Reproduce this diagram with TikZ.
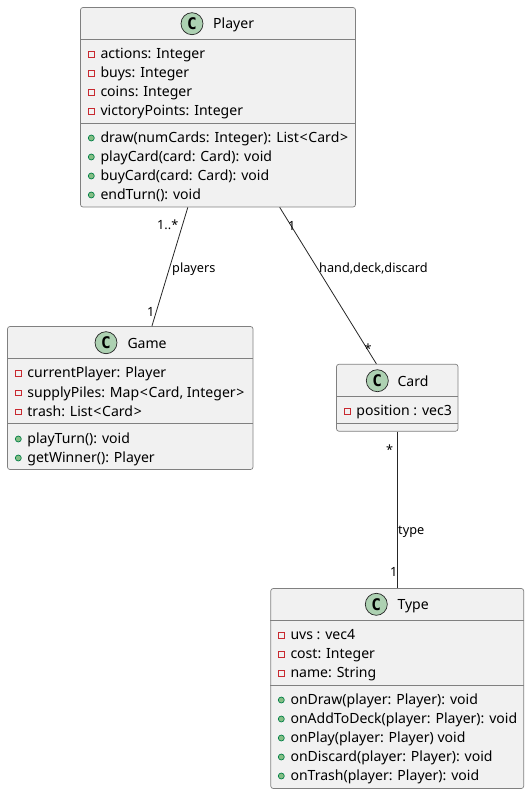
\documentclass[tikz,border=0pt]{standalone}
\usepackage{fontspec}
\setmainfont{Noto Sans}
\newfontfamily\spotfont{DejaVu Sans Mono}
\definecolor{boxfill}{HTML}{F1F1F1}
\definecolor{boxline}{HTML}{808080}
\definecolor{spotfill}{HTML}{ADD1B2}
\definecolor{privline}{HTML}{C82930}
\definecolor{pubfill}{HTML}{84BE84}
\definecolor{publine}{HTML}{038048}
\def\opn{\kern0.7pt<\kern0.7pt}
\def\cls{\kern0.7pt>}
\begin{document}
\begin{tikzpicture}[x=1pt, y=-1pt, text=black]
      \tikzset{
	  classbox/.style={rectangle,rounded corners=2.5pt,draw=boxline,fill=boxfill,line width=0.7pt,inner sep=0pt},
	  spot/.style={circle,draw=black!85,fill=spotfill,line width=0.7pt,inner sep=0pt,minimum size=22pt,font=\spotfont\fontsize{16}{16}\selectfont\bfseries},
	  title/.style={anchor=base west,inner sep=0pt,yshift=-0.6pt,font=\fontsize{14.05}{17}\selectfont},
	  member/.style={anchor=base west,inner sep=0pt,yshift=-0.6pt,font=\fontsize{14.05}{17}\selectfont},
	  privmark/.style={rectangle,draw=privline,fill=boxfill,line width=0.7pt,inner sep=0pt,minimum size=5.5pt},
	  pubmark/.style={circle,draw=publine,fill=pubfill,line width=0.7pt,inner sep=0pt,minimum size=6pt},
	  divider/.style={draw=boxline,line width=0.7pt},
	  assoc/.style={draw=black!85,line width=0.8pt},
	  rolelabel/.style={anchor=base west,inner sep=0pt,yshift=-0.6pt,font=\fontsize{12.7}{16}\selectfont}
      }

      \useasboundingbox (0,0) rectangle (529,794);

      % classes
      \node [classbox, minimum width=275pt, minimum height=199.5pt] (player) at (218,107.25) {};
      \node [classbox, minimum width=245.5pt, minimum height=143pt] (game) at (130.25,398) {};
      \node [classbox, minimum width=121.5pt, minimum height=67pt] (card) at (397.25,397.75) {};
      \node [classbox, minimum width=253pt, minimum height=200pt] (type) at (397.25,688.5) {};

      % player
      \node [spot] (playerspot) at (192,23.7) {C};
      \node [title] (playertitle) at (213,28) {Player};
      \draw [divider] (player.west |- 0,39.5) -- (player.east |- 0,39.5);
      \draw [divider] (player.west |- 0,123.5) -- (player.east |- 0,123.5);
      \foreach \y/\txt in {58/{actions: Integer},77/{buys: Integer},96/{coins: Integer},115/{victoryPoints: Integer}} {
	  \node [privmark] (playerpriv\y) at (91.3,\y-3.7) {};
	  \node [member] (playerfield\y) at (100.3,\y) {\txt};
      }
      \foreach \y/\txt in {142/{draw(numCards: Integer): List\opn Card\cls},161/{playCard(card: Card): void},180/{buyCard(card: Card): void},199/{endTurn(): void}} {
	  \node [pubmark] (playerpub\y) at (91.3,\y-4) {};
	  \node [member] (playermethod\y) at (100.3,\y) {\txt};
      }

      % game
      \node [spot] (gamespot) at (106,342.7) {C};
      \node [title] (gametitle) at (127.3,348) {Game};
      \draw [divider] (game.west |- 0,358.5) -- (game.east |- 0,358.5);
      \draw [divider] (game.west |- 0,423.7) -- (game.east |- 0,423.7);
      \foreach \y/\txt in {377/{currentPlayer: Player},396.5/{supplyPiles: Map\opn Card, Integer\cls},415.5/{trash: List\opn Card\cls}} {
	  \node [privmark] (gamepriv\y) at (18.3,\y-3.7) {};
	  \node [member] (gamefield\y) at (27.2,\y) {\txt};
      }
      \foreach \y/\txt in {443/{playTurn(): void},462/{getWinner(): Player}} {
	  \node [pubmark] (gamepub\y) at (18.3,\y-4) {};
	  \node [member] (gamemethod\y) at (27.2,\y) {\txt};
      }

      % card
      \node [spot] (cardspot) at (377.3,380.7) {C};
      \node [title] (cardtitle) at (397.3,385.7) {Card};
      \draw [divider] (card.west |- 0,396.3) -- (card.east |- 0,396.3);
      \draw [divider] (card.west |- 0,423.3) -- (card.east |- 0,423.3);
      \node [privmark] (cardpriv) at (347.3,411.3) {};
      \node [member] (cardfield) at (356.2,415) {position : vec3};

      % type
      \node [spot] (typespot) at (376.3,604.3) {C};
      \node [title] (typetitle) at (397.3,609.3) {Type};
      \draw [divider] (type.west |- 0,620.3) -- (type.east |- 0,620.3);
      \draw [divider] (type.west |- 0,685.3) -- (type.east |- 0,685.3);
      \foreach \y/\txt in {639/{uvs : vec4},658/{cost: Integer},677/{name: String}} {
	  \node [privmark] (typepriv\y) at (281.3,\y-3.7) {};
	  \node [member] (typefield\y) at (290.3,\y) {\txt};
      }
      \foreach \y/\txt in {704/{onDraw(player: Player): void},723/{onAddToDeck(player: Player): void},742/{onPlay(player: Player) void},761/{onDiscard(player: Player): void},780/{onTrash(player: Player): void}} {
	  \node [pubmark] (typepub\y) at (281.3,\y-4) {};
	  \node [member] (typemethod\y) at (290.3,\y) {\txt};
      }

      % associations
      \draw [assoc] (player) -- (game);
      \draw [assoc] (player) -- (card);
      \draw [assoc] (card) -- (type);

      \node [rolelabel] (playersrole) at (172,272) {players};
      \node [rolelabel] (manyplayers) at (157,229) {1..*};
      \node [rolelabel] (onegame) at (147,316) {1};
      \node [rolelabel] (handrole) at (319,272) {hand,deck,discard};
      \node [rolelabel] (oneplayer) at (288,230) {1};
      \node [rolelabel] (manycards) at (364.5,353) {*};
      \node [rolelabel] (typerole) at (398,534) {type};
      \node [rolelabel] (cardmany) at (386,454) {*};
      \node [rolelabel] (onetype) at (390,576) {1};
    \end{tikzpicture}
\end{document}
